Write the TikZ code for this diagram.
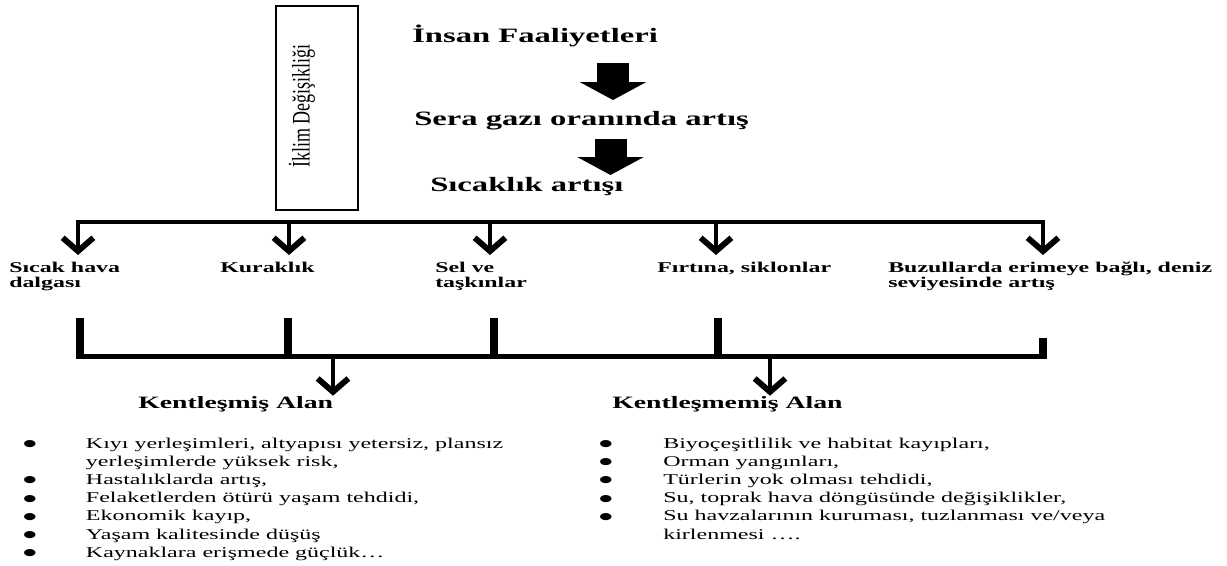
\documentclass[tikz,border=0pt]{standalone}
\usepackage{fontspec}
\usepackage{graphicx}
\setmainfont{Liberation Serif}[FakeStretch=1.6]
\newfontfamily\rotfont{Liberation Serif}
\newfontfamily\dotfont{DejaVu Sans}[FakeStretch=1.6]
\usetikzlibrary{arrows.meta}

\begin{document}
\begin{tikzpicture}[
  x=0.75pt, y=-0.75pt,
  head/.style={anchor=base west, inner sep=0pt, font=\fontsize{15.3}{18}\selectfont\bfseries},
  lab/.style={anchor=base west, inner sep=0pt, font=\fontsize{11.2}{10.5}\selectfont\bfseries},
  area/.style={anchor=base west, inner sep=0pt, font=\fontsize{13}{16}\selectfont\bfseries},
  list/.style={anchor=base west, inner sep=0pt, font=\fontsize{11.25}{13.65}\selectfont},
  box/.style={draw, line width=1pt, minimum width=61.5pt, minimum height=153pt, inner sep=0pt},
  block/.style={line width=24pt, -{Triangle[length=13.5pt, width=50pt, line width=0pt]}},
  bar/.style={line width=3pt, line cap=rect},
  down/.style={line width=3.6pt, -{Straight Barb[length=10pt, width=23pt, line width=4.4pt]}},
  stub/.style={line width=6.5pt}
]
\useasboundingbox (0,0) rectangle (1227,565);

% upper chain
\node[head] (ins) at (412,42.7) {İnsan Faaliyetleri};
\node[head] (sera) at (414,125) {Sera gazı oranında artış};
\node[head] (sic) at (430,191) {Sıcaklık artışı};
\coordinate (a1) at (613,63);
\coordinate (a1e) at (613,100);
\coordinate (a2) at (610.5,139);
\coordinate (a2e) at (610.5,175);
\draw[block] (a1) -- (a1e);
\draw[block] (a2) -- (a2e);

% climate box
\node[box] (ik) at (317,108) {};
\node[rotate=90, inner sep=0pt, font=\rotfont\fontsize{13.5}{16}\selectfont] (ikt) at (302,106)
  {\scalebox{1}[1.4]{İklim Değişikliği}};

% hazards
\node[lab] (l1) at (9,272.7) {\begin{tabular}[t]{@{}l@{}}Sıcak hava\\dalgası\end{tabular}};
\node[lab] (l2) at (220,272.7) {Kuraklık};
\node[lab] (l3) at (435,272.7) {\begin{tabular}[t]{@{}l@{}}Sel ve\\taşkınlar\end{tabular}};
\node[lab] (l4) at (657,272.7) {Fırtına, siklonlar};
\node[lab] (l5) at (888,272.7) {\begin{tabular}[t]{@{}l@{}}Buzullarda erimeye bağlı, deniz\\seviyesinde artış\end{tabular}};

\foreach \x [count=\i] in {78,289,490,716,1043}
  \coordinate (c\i) at (\x,222);
\draw[bar] (c1) -- (c5);
\foreach \i in {1,...,5}
  \draw[down] (c\i) -- (0,255 -| c\i);

% lower bracket
\foreach \x/\y [count=\i] in {80/318,288/318,494/318,718/318,1043/338} {
  \coordinate (s\i) at (\x,\y);
  \coordinate (b\i) at (\x,356);
  \draw[stub] (s\i) -- (b\i);
}
\draw[line width=3.75pt] ([xshift=-3.2pt]b1) -- ([xshift=3.2pt]b5);

\node[area] (kent) at (138,408) {Kentleşmiş Alan};
\node[area] (kird) at (612,408) {Kentleşmemiş Alan};
\coordinate (d1) at (333,356);
\coordinate (d2) at (770,356);
\draw[down] (d1) -- (kent.north -| d1);
\draw[down] (d2) -- (kird.north -| d2);

% lists
\newcommand\blt{\raisebox{1.2pt}{\dotfont\fontsize{7}{7}\selectfont ●}}
\node[list] (kl) at (23,448) {\begin{tabular}[t]{@{}p{47pt}@{}l@{}}
  \blt & Kıyı yerleşimleri, altyapısı yetersiz, plansız\\
   & yerleşimlerde yüksek risk,\\
  \blt & Hastalıklarda artış,\\
  \blt & Felaketlerden ötürü yaşam tehdidi,\\
  \blt & Ekonomik kayıp,\\
  \blt & Yaşam kalitesinde düşüş\\
  \blt & Kaynaklara erişmede güçlük…
\end{tabular}};
\node[list] (kml) at (599,448) {\begin{tabular}[t]{@{}p{48pt}@{}l@{}}
  \blt & Biyoçeşitlilik ve habitat kayıpları,\\
  \blt & Orman yangınları,\\
  \blt & Türlerin yok olması tehdidi,\\
  \blt & Su, toprak hava döngüsünde değişiklikler,\\
  \blt & Su havzalarının kuruması, tuzlanması ve/veya\\
   & kirlenmesi ….
\end{tabular}};
\end{tikzpicture}
\end{document}
